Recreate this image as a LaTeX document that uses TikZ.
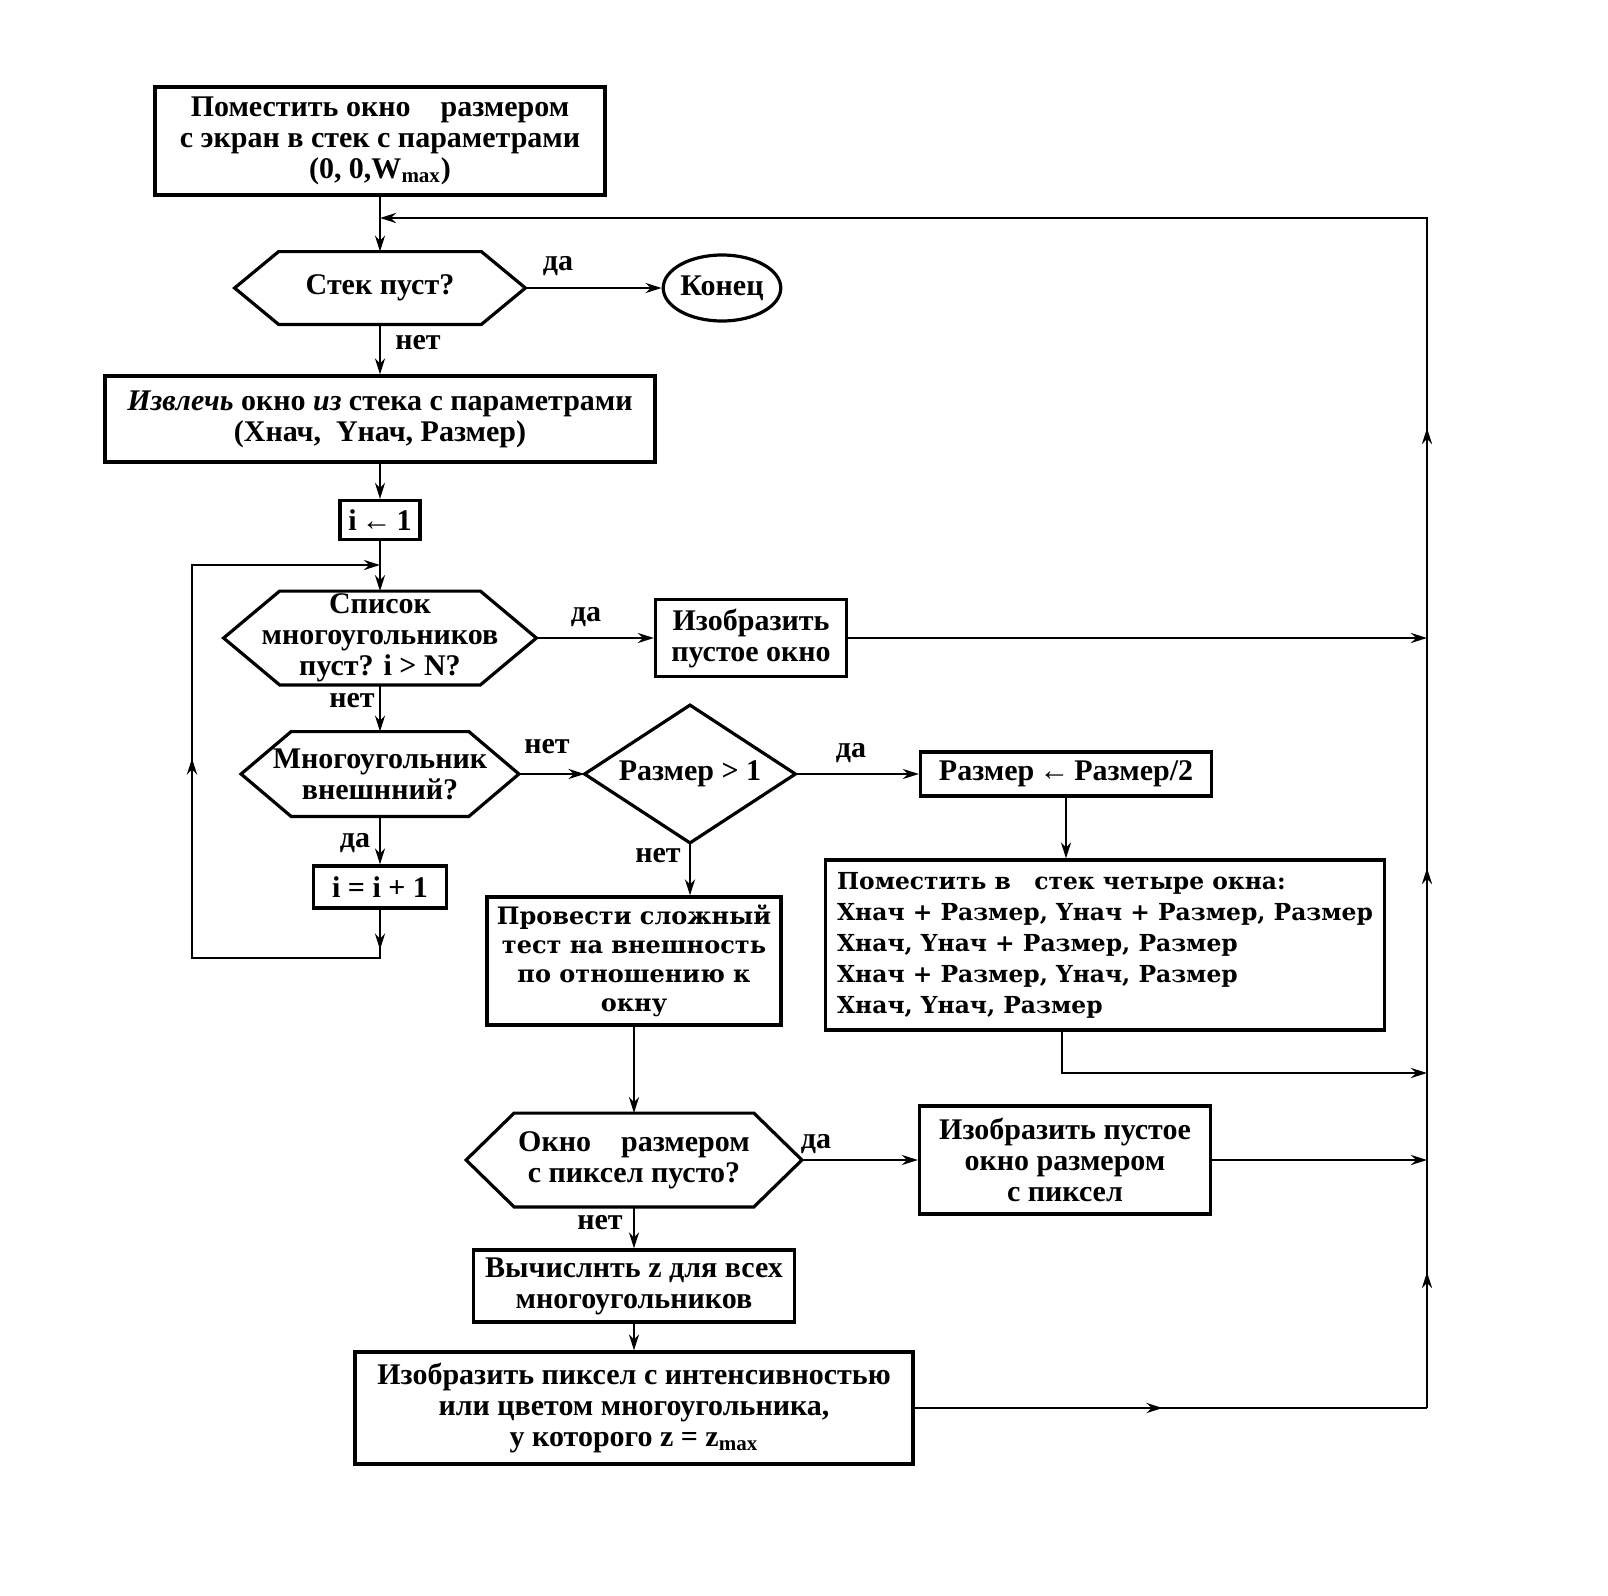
\documentclass[tikz,border=0pt]{standalone}
\usepackage{fontspec}
\setmainfont{Liberation Serif}
\newfontfamily\wide{DejaVu Serif}
\usetikzlibrary{arrows.meta,shapes.geometric,decorations.markings}
\tikzset{
  tipA/.tip={Stealth[length=8pt,width=5pt]},
  txt/.style={font=\bfseries\fontsize{15}{15.5}\selectfont},
  box/.style={draw, line width=1.6pt, rectangle, inner sep=0pt, align=center, txt},
  blank/.style={rectangle, inner sep=0pt, align=center, txt},
  outline/.style={line width=1.6pt, line join=miter},
  conn/.style={line width=1.4pt},
  arr/.style={conn, -tipA},
  marks/.style={postaction={decorate, decoration={markings, #1}}},
  lbl/.style={inner sep=0pt, txt},
}
\newcommand\myhex[2]{\draw[outline] (#1.west) -- ([xshift=#2]#1.north west) -- ([xshift=-#2]#1.north east) -- (#1.east) -- ([xshift=-#2]#1.south east) -- ([xshift=#2]#1.south west) -- cycle;}
\begin{document}
\begin{tikzpicture}[x=0.5pt,y=-0.5pt]
\useasboundingbox (0,0) rectangle (1608,1596);
% nodes
\node[box, minimum width=225pt, minimum height=54pt] (top) at (380,141)
  {Поместить окно\quad размером\\с экран в стек с параметрами\\(0, 0,W\textsubscript{max})};
\node[blank, minimum width=145pt, minimum height=36pt] (hex1) at (380,288) {Стек пуст?};
\myhex{hex1}{22pt}
\node[draw, ellipse, line width=1.6pt, inner sep=0pt, minimum width=55.5pt, minimum height=33pt, txt] (endn) at (722,288) {Конец};
\node[box, minimum width=275pt, minimum height=43pt] (extract) at (380,419)
  {\textit{Извлечь} окно \textit{из} стека с параметрами\\(Xнач,\ \ Yнач, Размер)};
\node[box, minimum width=40pt, minimum height=19.5pt] (i1) at (380,520) {i\,←\,1};
\node[blank, minimum width=156pt, minimum height=46.5pt] (hex2) at (380,638)
  {Список\\многоугольников\\пуст? i > N?};
\myhex{hex2}{28pt}
\node[blank, minimum width=138.5pt, minimum height=42pt] (hex3) at (380,774)
  {Многоугольник\\внешнний?};
\myhex{hex3}{25pt}
\node[blank, minimum width=105pt, minimum height=68.5pt] (dia) at (690,774) {Размер > 1};
\draw[outline] (dia.west) -- (dia.north) -- (dia.east) -- (dia.south) -- cycle;
\node[box, minimum width=95.5pt, minimum height=38.5pt] (empty1) at (751,638)
  {Изобразить\\пустое окно};
\node[box, minimum width=145.5pt, minimum height=22pt] (half) at (1066,774) {Размер\,←\,Размер/2};
\node[box, minimum width=66.5pt, minimum height=21pt] (inc) at (380,887) {i = i + 1};
\node[box, minimum width=147pt, minimum height=64pt, font=\wide\bfseries\fontsize{12}{14.5}\selectfont] (test) at (634,961)
  {Провести сложный\\тест на внешность\\по отношению к\\окну};
\node[box, minimum width=279.5pt, minimum height=85pt, align=left, font=\wide\bfseries\fontsize{11.7}{15.5}\selectfont] (push4) at (1105,945)
  {Поместить в\quad стек четыре окна:\\Xнач + Размер, Yнач + Размер, Размер\\Xнач, Yнач + Размер, Размер\\ Xнач + Размер, Yнач, Размер\\ Xнач, Yнач, Размер};
\node[blank, minimum width=167.5pt, minimum height=46.5pt] (hex4) at (634,1160)
  {Окно\quad размером\\с пиксел пусто?};
\myhex{hex4}{24pt}
\node[box, minimum width=145.5pt, minimum height=54pt] (empty2) at (1065,1160)
  {Изобразить пустое\\окно размером\\с пиксел};
\node[box, minimum width=160.5pt, minimum height=36pt] (calc) at (634,1286)
  {Вычислнть z для всех\\многоугольников};
\node[box, minimum width=279pt, minimum height=56pt] (pixel) at (634,1408)
  {Изобразить пиксел с интенсивностью\\или цветом многоугольника,\\у которого z = z\textsubscript{max}};
% coordinates
\coordinate (Jtop) at (380,218);
\coordinate (Rtop) at (1427,218);
\coordinate (Rbot) at (1427,1408);
\coordinate (R1) at (1427,638);
\coordinate (R2) at (1427,1160);
\coordinate (P1) at (1062,1073);
\coordinate (R3) at (1427,1073);
\coordinate (Jl) at (380,565);
\coordinate (Lt) at (192,565);
\coordinate (Lb) at (192,958);
\coordinate (Bb) at (380,958);
% connectors
\draw[arr] (top.south) -- (hex1.north);
\draw[arr] (hex1.east) -- (endn.west);
\draw[arr] (hex1.south) -- (extract.north);
\draw[arr] (extract.south) -- (i1.north);
\draw[arr] (i1.south) -- (hex2.north);
\draw[arr] (hex2.east) -- (empty1.west);
\draw[arr] (empty1.east) -- (R1);
\draw[arr] (hex2.south) -- (hex3.north);
\draw[arr] (hex3.east) -- (dia.west);
\draw[arr] (dia.east) -- (half.west);
\draw[arr] (half.south) -- (half.south |- push4.north);
\draw[arr] (hex3.south) -- (inc.north);
\draw[conn, marks={mark=at position 20pt with {\arrow{tipA}}, mark=at position 218pt with {\arrow{tipA}}}, -tipA]
  (inc.south) -- (Bb) -- (Lb) -- (Lt) -- (Jl);
\draw[arr] (dia.south) -- (dia.south |- test.north);
\draw[arr] (push4.south -| P1) -- (P1) -- (R3);
\draw[arr] (test.south) -- (hex4.north);
\draw[arr] (hex4.east) -- (empty2.west);
\draw[arr] (empty2.east) -- (R2);
\draw[arr] (hex4.south) -- (calc.north);
\draw[arr] (calc.south) -- (pixel.north);
\draw[conn, marks={mark=at position 124pt with {\arrow{tipA}}}] (pixel.east) -- (Rbot);
\draw[conn, marks={mark=at position 68pt with {\arrow{tipA}}, mark=at position 270pt with {\arrow{tipA}}, mark=at position 490pt with {\arrow{tipA}}}, -tipA]
  (Rbot) -- (Rtop) -- (Jtop);
% labels
\node[lbl] (l1) at (558,266) {да};
\node[lbl] (l2) at (418,343) {нет};
\node[lbl] (l3) at (586,617) {да};
\node[lbl] (l4) at (352,701) {нет};
\node[lbl] (l5) at (547,747) {нет};
\node[lbl] (l6) at (851,753) {да};
\node[lbl] (l7) at (355,843) {да};
\node[lbl] (l8) at (658,856) {нет};
\node[lbl] (l9) at (816,1144) {да};
\node[lbl] (l10) at (600,1223) {нет};
\end{tikzpicture}
\end{document}
